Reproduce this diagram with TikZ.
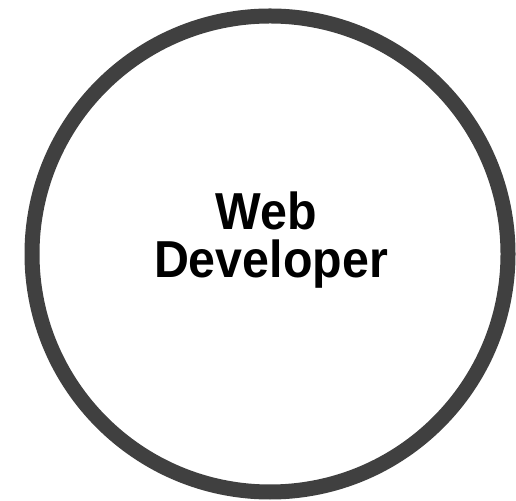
\documentclass[tikz,border=0pt]{standalone}
\usepackage{fontspec}
\setmainfont{Liberation Sans}
\definecolor{ringgray}{HTML}{404040}
\tikzset{
  ring/.style={draw=ringgray, line width=15pt, fill=white},
  label/.style={anchor=base, font=\bfseries\fontsize{52}{52}\selectfont, text=black, inner sep=0pt}
}
\begin{document}
\begin{tikzpicture}[x=1pt,y=1pt]
  \useasboundingbox (0,0) rectangle (516,500);
  % outer ring
  \node[ring, circle, minimum size=476pt, inner sep=0pt] (ring) at (270,246) {};
  % title, two lines, set slightly condensed
  \node[label] (web) at (266,270) {\scalebox{0.93}[1]{Web}};
  \node[label] (dev) at (271,222) {\scalebox{0.93}[1]{Developer}};
\end{tikzpicture}
\end{document}
